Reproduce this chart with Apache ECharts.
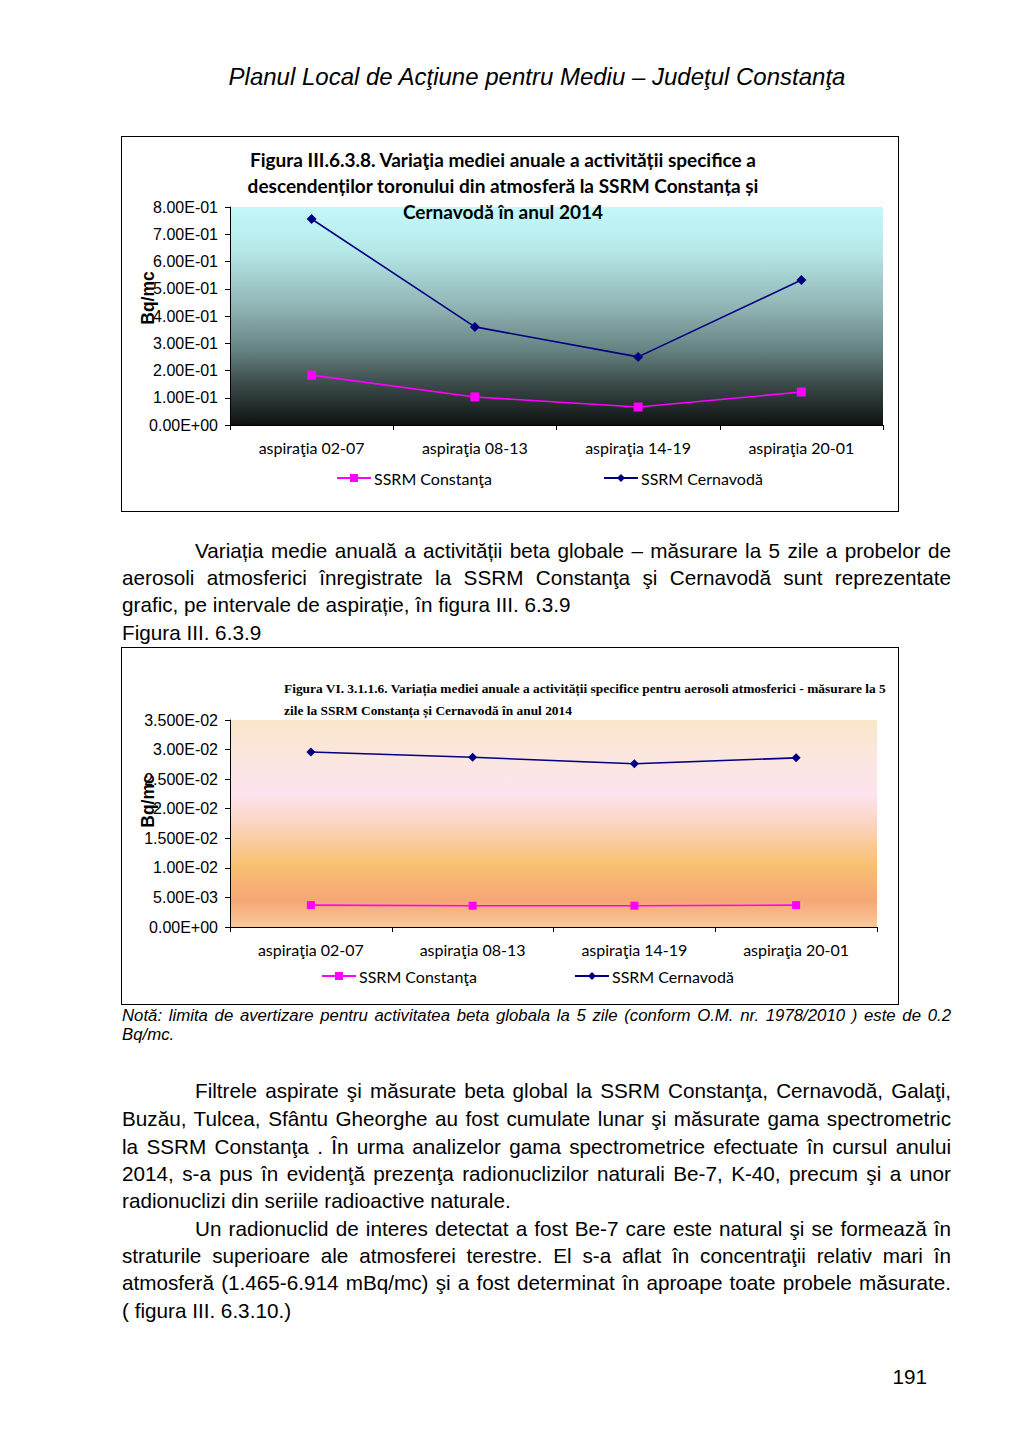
<!DOCTYPE html>
<html>
<head>
<meta charset="utf-8">
<script src="https://cdn.jsdelivr.net/npm/echarts@6/dist/echarts.min.js"></script>
<style>
html,body{margin:0;padding:0;background:#fff;}
body{width:1024px;height:1449px;position:relative;overflow:hidden;font-family:"Liberation Sans",Arial,sans-serif;color:#000;}
.ln{position:absolute;left:122px;width:829px;font-size:20.7px;line-height:27px;height:27px;white-space:nowrap;}
.j{text-align:justify;text-align-last:justify;}
.ind{left:195px;width:756px;}
.note{font-style:italic;font-size:16.8px;line-height:19px;height:19px;}
#hdr{position:absolute;left:0;width:1074px;top:61px;text-align:center;font-style:italic;font-size:24px;line-height:32px;}
#c1{position:absolute;left:122px;top:137px;width:776px;height:374px;outline:1.5px solid #000;}
#c2{position:absolute;left:122px;top:648px;width:776px;height:356px;outline:1.5px solid #000;}
#pg{position:absolute;left:870px;width:57px;text-align:right;top:1363px;font-size:20.7px;line-height:27px;}
</style>
</head>
<body>
<div id="hdr">Planul Local de Acţiune pentru Mediu – Judeţul Constanţa</div>
<div id="c1"></div>
<div class="ln j ind" style="top:537px">Variația medie anuală a activității beta globale – măsurare la 5 zile a probelor de</div>
<div class="ln j" style="top:564px">aerosoli atmosferici înregistrate la SSRM Constanţa şi Cernavodă sunt reprezentate</div>
<div class="ln" style="top:591px">grafic, pe intervale de aspirație, în figura III. 6.3.9</div>
<div class="ln" style="top:619px">Figura III. 6.3.9</div>
<div id="c2"></div>
<div class="ln note j" style="top:1006px">Notă: limita de avertizare pentru activitatea beta globala la 5 zile (conform O.M. nr. 1978/2010 ) este de 0.2</div>
<div class="ln note" style="top:1025px">Bq/mc.</div>
<div class="ln j ind" style="top:1077px">Filtrele aspirate şi măsurate beta global la SSRM Constanţa, Cernavodă, Galaţi,</div>
<div class="ln j" style="top:1105px">Buzău, Tulcea, Sfântu Gheorghe au fost cumulate lunar şi măsurate gama spectrometric</div>
<div class="ln j" style="top:1133px">la SSRM Constanţa . În urma analizelor gama spectrometrice efectuate în cursul anului</div>
<div class="ln j" style="top:1160px">2014, s-a pus în evidenţă prezenţa radionuclizilor naturali Be-7, K-40, precum şi a unor</div>
<div class="ln" style="top:1187px">radionuclizi din seriile radioactive naturale.</div>
<div class="ln j ind" style="top:1215px">Un radionuclid de interes detectat a fost Be-7 care este natural şi se formează în</div>
<div class="ln j" style="top:1242px">straturile superioare ale atmosferei terestre. El s-a aflat în concentraţii relativ mari în</div>
<div class="ln j" style="top:1269px">atmosferă (1.465-6.914 mBq/mc) şi a fost determinat în aproape toate probele măsurate.</div>
<div class="ln" style="top:1297px">( figura III. 6.3.10.)</div>
<div id="pg">191</div>
<script>
// ---- data ----
const categories = ['aspiraţia 02-07', 'aspiraţia 08-13', 'aspiraţia 14-19', 'aspiraţia 20-01'];
const seriesNames = ['SSRM Constanţa', 'SSRM Cernavodă'];

// Figure III.6.3.8 (thoron descendants)
const thoronConstanta = [0.183, 0.103, 0.066, 0.121];
const thoronCernavoda = [0.756, 0.360, 0.250, 0.532];
const yTicks1 = ['0.00E+00', '1.00E-01', '2.00E-01', '3.00E-01', '4.00E-01', '5.00E-01', '6.00E-01', '7.00E-01', '8.00E-01'];

// Figure III.6.3.9 (aerosols, beta global)
const betaConstanta = [0.0037, 0.0036, 0.0036, 0.0037];
const betaCernavoda = [0.0296, 0.0287, 0.0276, 0.0286];
const yTicks2 = ['0.00E+00', '5.00E-03', '1.00E-02', '1.500E-02', '2.00E-02', '2.500E-02', '3.00E-02', '3.500E-02'];

const title1 = ['Figura III.6.3.8. Variaţia mediei anuale a activității specifice a',
  'descendenților toronului din atmosferă la SSRM Constanța și',
  'Cernavodă în anul 2014'];
const title2 = ['Figura VI. 3.1.1.6. Variația mediei anuale a activității specifice pentru aerosoli atmosferici - măsurare la 5',
  'zile la SSRM Constanța și Cernavodă în anul 2014'];

const sansTick = '"Liberation Sans", Arial, sans-serif';
const calibri = 'Lato, "Noto Sans", sans-serif';

function makeOption(cfg) {
  return {
    animation: false,
    title: cfg.title,
    graphic: [{
      type: 'text', x: cfg.nameX, y: cfg.nameY, rotation: Math.PI / 2, z: 100,
      style: { text: 'Bq/mc', font: 'bold 17.5px ' + sansTick, fill: '#000', align: 'center', verticalAlign: 'middle' }
    }],
    legend: {
      left: cfg.legendLeft, top: cfg.legendTop, itemGap: cfg.legendGap,
      itemWidth: 34, itemHeight: 10,
      textStyle: { fontFamily: calibri, fontSize: 16, color: '#000', padding: [0, 0, 0, -2] },
      data: seriesNames
    },
    grid: Object.assign({ show: true, borderWidth: 0, backgroundColor: cfg.bg }, cfg.grid),
    xAxis: {
      type: 'category', data: categories, boundaryGap: true,
      axisLine: { lineStyle: { color: '#000', width: 1 } },
      axisTick: { show: true, length: 5, lineStyle: { color: '#000' } },
      axisLabel: { fontFamily: calibri, fontSize: 16, color: '#000', margin: 14 }
    },
    yAxis: {
      type: 'value', min: 0, max: cfg.max, interval: cfg.interval,
      axisLine: { show: true, lineStyle: { color: '#000', width: 1 } },
      axisTick: { show: true, length: 5, lineStyle: { color: '#000' } },
      splitLine: { show: false },
      axisLabel: { fontFamily: sansTick, fontSize: 16, color: '#000', margin: 12,
        formatter: (v, i) => cfg.ticks[i] }
    },
    series: [
      { name: seriesNames[0], type: 'line', data: cfg.a, symbol: 'rect', symbolSize: cfg.sq,
        itemStyle: { color: '#ff00ff' }, lineStyle: { color: '#ff00ff', width: 1.6 } },
      { name: seriesNames[1], type: 'line', data: cfg.b, symbol: 'diamond', symbolSize: cfg.dm,
        itemStyle: { color: '#000080' }, lineStyle: { color: '#000080', width: 1.6 } }
    ]
  };
}

const c1 = echarts.init(document.getElementById('c1'), null, { renderer: 'svg' });
c1.setOption(makeOption({
  title: {
    text: title1.join('\n'), left: 376, top: 4, textAlign: 'center',
    textStyle: { fontFamily: calibri, fontWeight: 'bold', fontSize: 19, lineHeight: 26, color: '#000' }
  },
  nameX: 26, nameY: 161,
  legendLeft: 209, legendTop: 328, legendGap: 111,
  grid: { left: 108, top: 70, width: 653, height: 218 },
  bg: { type: 'linear', x: 0, y: 0, x2: 0, y2: 1, colorStops: [
    { offset: 0, color: '#c4f9f9' }, { offset: 0.2, color: '#b6e8e8' }, { offset: 0.45, color: '#92b6b6' },
    { offset: 0.65, color: '#678484' }, { offset: 0.82, color: '#3a4848' }, { offset: 1, color: '#0e1111' } ] },
  max: 0.8, interval: 0.1, ticks: yTicks1,
  a: thoronConstanta, b: thoronCernavoda, sq: 9, dm: 10
}));

const c2 = echarts.init(document.getElementById('c2'), null, { renderer: 'svg' });
c2.setOption(makeOption({
  title: {
    text: title2.join('\n'), left: 157, top: 24, textAlign: 'left',
    textStyle: { fontFamily: '"Liberation Serif", "DejaVu Serif", serif', fontWeight: 'bold', fontSize: 13.4, lineHeight: 22, color: '#000' }
  },
  nameX: 26, nameY: 153,
  legendLeft: 194, legendTop: 315, legendGap: 97,
  grid: { left: 108, top: 72, width: 647, height: 207 },
  bg: { type: 'linear', x: 0, y: 0, x2: 0, y2: 1, colorStops: [
    { offset: 0, color: '#fae6c9' }, { offset: 0.2, color: '#fce6e2' }, { offset: 0.36, color: '#fde3ee' },
    { offset: 0.52, color: '#fbd3ba' }, { offset: 0.7, color: '#f8c070' }, { offset: 0.87, color: '#f6a676' },
    { offset: 1, color: '#f9ca9c' } ] },
  max: 0.035, interval: 0.005, ticks: yTicks2,
  a: betaConstanta, b: betaCernavoda, sq: 8, dm: 9
}));
</script>
</body>
</html>
